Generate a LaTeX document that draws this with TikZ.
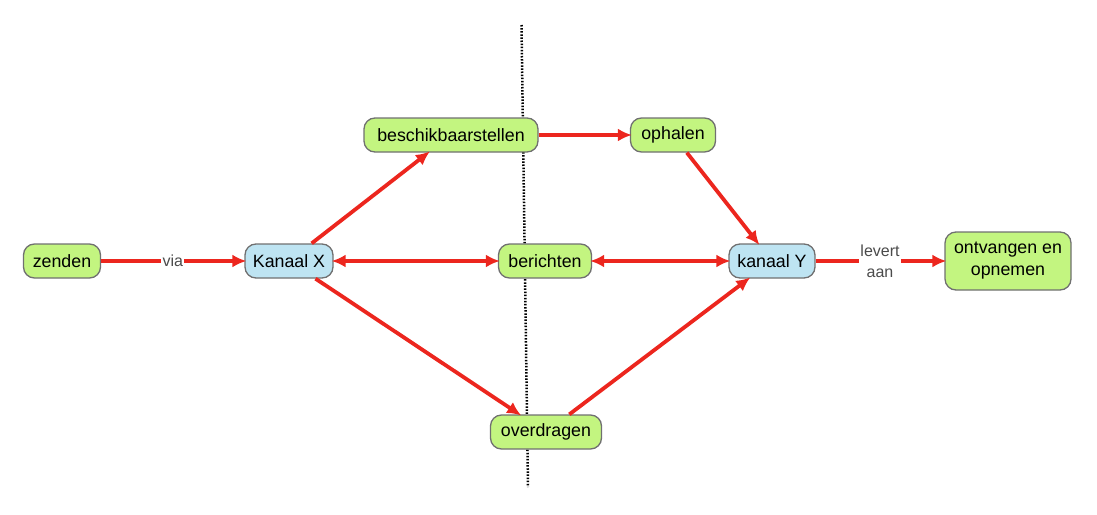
\documentclass[tikz,border=0pt]{standalone}
\usepackage{fontspec}
\setmainfont{Liberation Sans}
\usetikzlibrary{arrows.meta}
\definecolor{myred}{RGB}{236,38,30}
\definecolor{mygreen}{RGB}{195,245,128}
\definecolor{myblue}{RGB}{190,228,242}
\definecolor{myborder}{RGB}{112,112,112}
\definecolor{mylabel}{RGB}{75,75,75}
\tikzset{
  concept/.style={draw=myborder, line width=1.3pt, rounded corners=11pt,
    fill=mygreen, minimum height=34pt, inner sep=0pt, align=center,
    font=\fontsize{17.8}{22}\selectfont},
  channel/.style={concept, fill=myblue},
  link/.style={draw=myred, line width=3.8pt, shorten >=-2pt,
    -{Latex[length=14pt,width=13pt]}},
  twolink/.style={link, shorten <=-2pt,
    {Latex[length=14pt,width=13pt]}-{Latex[length=14pt,width=13pt]}},
  linklabel/.style={fill=white, inner sep=1.5pt, text=mylabel, align=center,
    font=\fontsize{16}{21}\selectfont}
}

\begin{document}
\begin{tikzpicture}[x=1pt, y=-1pt]
                \useasboundingbox (0,0) rectangle (1097,514);

                % Dividing line
                \draw[line width=2.5pt, dash pattern=on 1.5pt off 1.6pt] (521.5,25) -- (528,487);

                % Concepts
                \node[concept, minimum width=77pt] (zenden) at (62,261) {zenden};
                \node[channel, minimum width=88pt] (kanaalX) at (289,261) {Kanaal X};
                \node[concept, minimum width=174pt] (beschikbaar) at (451,135) {beschikbaarstellen};
                \node[concept, minimum width=85pt] (ophalen) at (673,135) {ophalen};
                \node[concept, minimum width=93pt] (berichten) at (545,261) {berichten};
                \node[channel, minimum width=86pt] (kanaalY) at (772,261) {kanaal Y};
                \node[concept, minimum width=126pt, minimum height=58pt] (ontvangen) at (1008,261) {ontvangen en\\opnemen};
                \node[concept, minimum width=111pt] (overdragen) at (546,432) {overdragen};

                % Links
                \draw[link] (zenden) -- node[linklabel] {via} (kanaalX);
                \draw[link] (kanaalX) -- (beschikbaar);
                \draw[link] (beschikbaar) -- (ophalen);
                \draw[link] (ophalen) -- (kanaalY);
                \draw[twolink] (kanaalX) -- (berichten);
                \draw[twolink] (berichten) -- (kanaalY);
                \draw[link] (kanaalX) -- (overdragen);
                \draw[link] (overdragen) -- (kanaalY);
                \draw[link] (kanaalY) -- node[linklabel] {levert\\aan} (ontvangen);
            \end{tikzpicture}
\end{document}
